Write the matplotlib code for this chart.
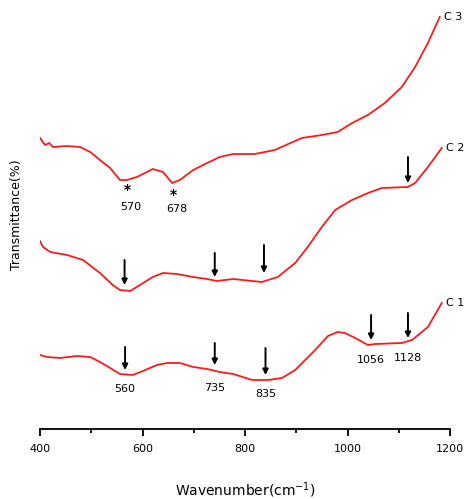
import matplotlib
matplotlib.use('Agg')
from matplotlib import pyplot as plt
from matplotlib.ticker import MultipleLocator

# FTIR spectra, offset transmittance in arbitrary units
c1_x = [400, 414, 439, 472, 498, 517, 537, 556, 581, 601, 628, 648, 673, 699, 726, 751, 777,
        814, 845, 872, 898, 937, 962, 981, 995, 1015, 1040, 1054, 1106, 1126, 1157, 1184]
c1_y = [145, 143, 142, 144, 143, 138, 132, 126, 125, 129, 135, 137, 137, 133, 131, 128, 126,
        120, 120, 122, 130, 150, 164, 168, 167, 162, 155, 156, 157, 160, 173, 197]

c2_x = [400, 406, 420, 453, 484, 517, 542, 556, 576, 595, 620, 640, 667, 699, 726, 745, 777,
        833, 864, 898, 921, 950, 976, 1009, 1040, 1067, 1118, 1132, 1157, 1184]
c2_y = [259, 253, 248, 245, 240, 227, 215, 210, 209, 215, 223, 227, 226, 223, 221, 219, 221,
        218, 223, 237, 252, 273, 290, 300, 307, 312, 313, 317, 333, 352]

c3_x = [400, 410, 418, 425, 453, 478, 498, 517, 537, 556, 570, 589, 609, 620, 640, 658, 673,
        699, 726, 751, 777, 819, 858, 911, 950, 981, 1009, 1040, 1073, 1106, 1132, 1157, 1180]
c3_y = [362, 355, 357, 353, 354, 353, 348, 340, 332, 320, 320, 323, 328, 331, 328, 317, 320,
        330, 337, 343, 346, 346, 350, 362, 365, 368, 377, 385, 397, 413, 433, 457, 483]

# arrows: x, tip, top
c1_arrow_x = [566, 741, 840, 1046, 1118]
c1_arrow_tip = [130, 135, 125, 160, 162]
c1_arrow_top = [153, 157, 152, 185, 187]
c1_labels = ['560', '735', '835', '1056', '1128']
c1_label_y = [111, 112, 106, 140, 142]

c2_arrow_x = [565, 741, 837, 1118]
c2_arrow_tip = [215, 223, 227, 317]
c2_arrow_top = [240, 247, 255, 343]

c3_star_x = [570, 660]
c3_star_y = [310, 305]
c3_labels = ['570', '678']
c3_label_y = [293, 291]

fig = plt.figure(figsize=(4.7, 4.99), dpi=100)
ax = fig.add_axes([40 / 470, (499 - 429) / 499, 410 / 470, (429 - 5) / 499])

for xs, ys in [(c1_x, c1_y), (c2_x, c2_y), (c3_x, c3_y)]:
    ax.plot(xs, ys, color='#ff1a1a', lw=1.3)

arrow_kw = dict(arrowstyle='-|>', color='black', lw=1.4, mutation_scale=8, shrinkA=0, shrinkB=0)
for x, tip, top in zip(c1_arrow_x, c1_arrow_tip, c1_arrow_top):
    ax.annotate('', xy=(x, tip), xytext=(x, top), arrowprops=arrow_kw)
for x, tip, top in zip(c2_arrow_x, c2_arrow_tip, c2_arrow_top):
    ax.annotate('', xy=(x, tip), xytext=(x, top), arrowprops=arrow_kw)

for x, lab, ly in zip(c1_arrow_x, c1_labels, c1_label_y):
    ax.text(x, ly, lab, ha='center', va='center', fontsize=8)
for x, sy, lab, ly in zip(c3_star_x, c3_star_y, c3_labels, c3_label_y):
    ax.text(x, sy, '*', ha='center', va='center', fontsize=10, fontweight='bold')
    ax.text(x + 8, ly, lab, ha='center', va='center', fontsize=8)

ax.text(1192, 197, 'C 1', fontsize=8, va='center', ha='left', clip_on=False)
ax.text(1192, 352, 'C 2', fontsize=8, va='center', ha='left', clip_on=False)
ax.text(1188, 483, 'C 3', fontsize=8, va='center', ha='left', clip_on=False)

ax.set_xlim(400, 1200)
ax.set_ylim(71, 495)
for s in ['left', 'right', 'top']:
    ax.spines[s].set_visible(False)
ax.spines['bottom'].set_linewidth(1.3)
ax.set_yticks([])
ax.xaxis.set_major_locator(MultipleLocator(200))
ax.xaxis.set_minor_locator(MultipleLocator(100))
ax.tick_params(axis='x', which='major', direction='out', length=5, width=1.3, labelsize=8, pad=6)
ax.tick_params(axis='x', which='minor', direction='out', length=3, width=1.3)

fig.text(245 / 470, 1 - 490 / 499, 'Wavenumber(cm$^{-1}$)', ha='center', va='center', fontsize=10)
fig.text(17 / 470, 1 - 215 / 499, 'Transmittance(%)', ha='center', va='center', rotation=90, fontsize=9)

fig.savefig('out.png', dpi=100)
